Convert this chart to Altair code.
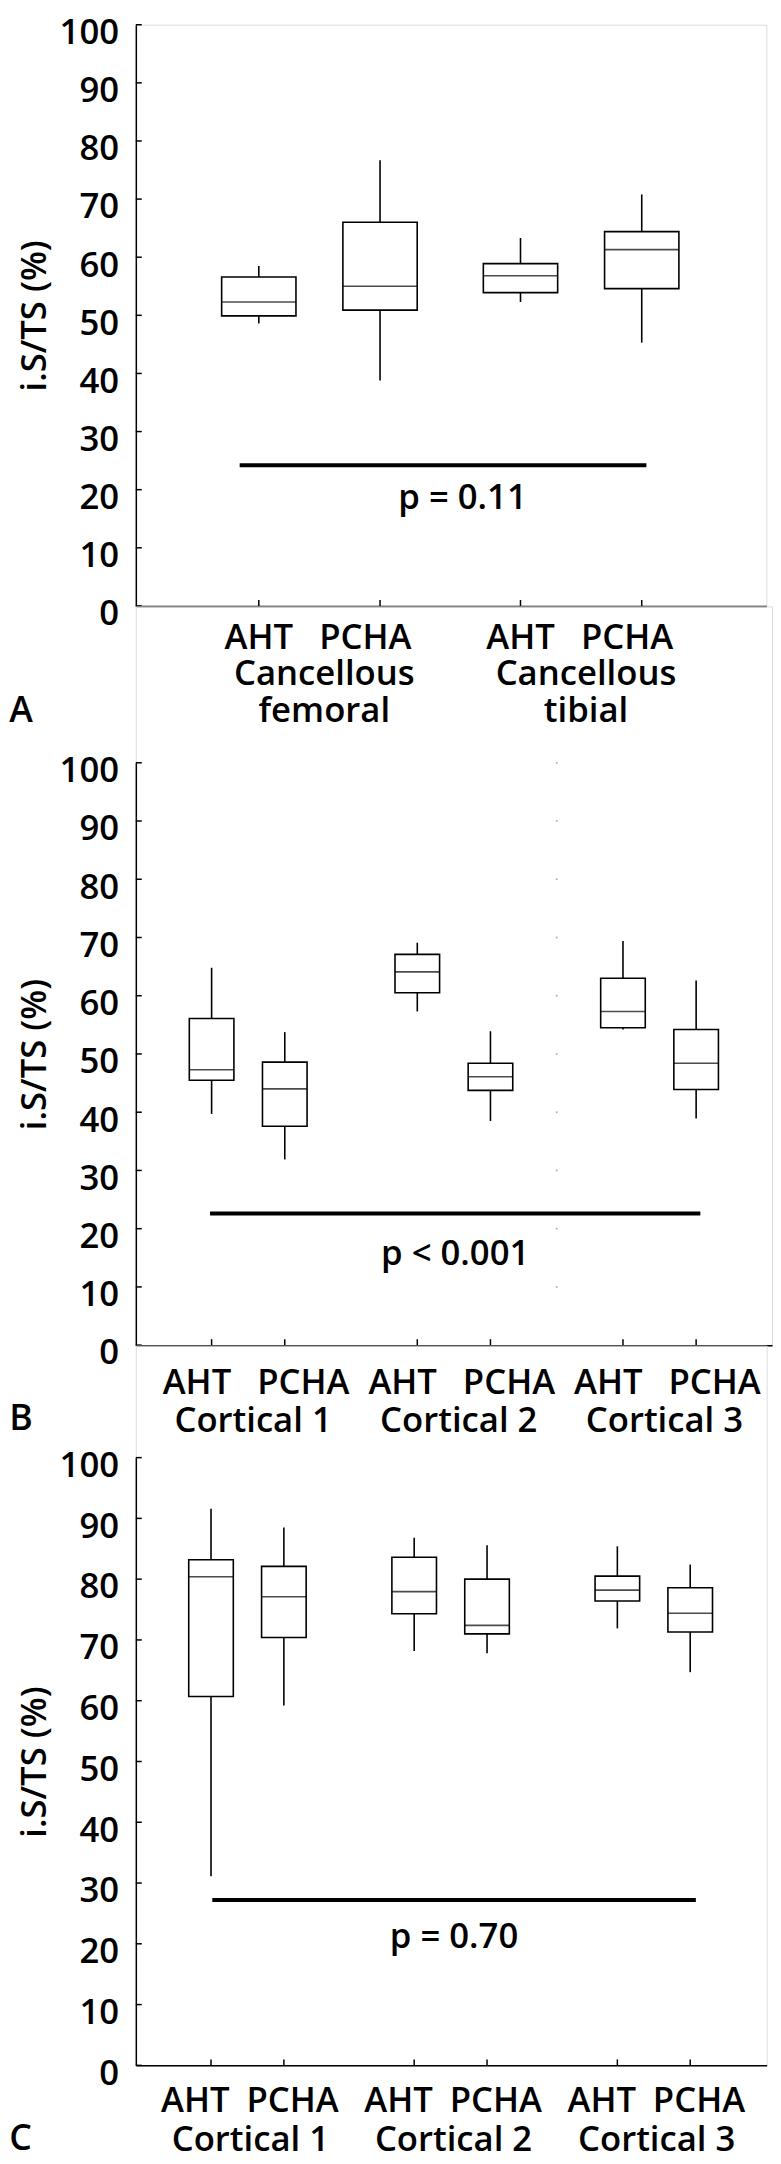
import altair as alt
import pandas as pd

FONT = "Open Sans"
WEIGHT = 600
TREATMENTS = ["AHT", "PCHA"]
Y_TICKS = [0, 10, 20, 30, 40, 50, 60, 70, 80, 90, 100]
Y_TITLE = "i.S/TS (%)"

# ---------------- Panel A ----------------
A_GROUPS = ["Cancellous\nfemoral", "Cancellous\ntibial"]
A_LOW = [48.6, 38.8, 52.3, 45.3]
A_Q1 = [49.9, 50.9, 53.9, 54.6]
A_MED = [52.3, 55.0, 56.8, 61.3]
A_Q3 = [56.6, 66.0, 58.9, 64.4]
A_HIGH = [58.5, 76.7, 63.3, 70.8]
A_P_TEXT = "p = 0.11"
A_P_LEVEL = 24.2
A_P_TEXT_LEVEL = 16.7

# ---------------- Panel B ----------------
B_GROUPS = ["Cortical 1", "Cortical 2", "Cortical 3"]
B_LOW = [39.7, 31.9, 57.3, 38.5, 54.2, 38.9]
B_Q1 = [45.5, 37.6, 60.5, 43.75, 54.5, 43.9]
B_MED = [47.3, 44.0, 64.1, 46.1, 57.3, 48.4]
B_Q3 = [56.1, 48.6, 67.1, 48.4, 63.0, 54.2]
B_HIGH = [64.8, 53.75, 69.1, 53.9, 69.4, 62.6]
B_P_TEXT = "p < 0.001"
B_P_LEVEL = 22.6
B_P_TEXT_LEVEL = 13.8

# ---------------- Panel C ----------------
C_GROUPS = ["Cortical 1", "Cortical 2", "Cortical 3"]
C_LOW = [31.1, 59.2, 68.2, 67.8, 71.9, 64.7]
C_Q1 = [60.7, 70.4, 74.3, 71.0, 76.4, 71.3]
C_MED = [80.4, 77.1, 77.95, 72.4, 78.2, 74.4]
C_Q3 = [83.2, 82.1, 83.6, 80.0, 80.5, 78.6]
C_HIGH = [91.6, 88.5, 86.8, 85.6, 85.4, 82.4]
C_P_TEXT = "p = 0.70"
C_P_LEVEL = 27.2
C_P_TEXT_LEVEL = 19.3

# layout (pixels / styles)
LAY_A = dict(letter="A", width=636.3, height=586.5, top=0, first=121, sep=124.3, step=268.3,
             box=75, treat_dx=[0, -15], group_dx=5, row1=43.5, row2=80, line_h=37.5,
             letter_y=117.5, p_from=-19.6, p_to=4.8, p_dx=20, dots=False)
LAY_B = dict(letter="B", width=642, height=745.5, top=157.8, first=72.6, sep=75, step=210.85,
             box=45, treat_dx=[-15, 19], group_dx=5, row1=49, row2=88, line_h=37.5,
             letter_y=86, p_from=-1.6, p_to=4.3, p_dx=0, dots=True)
LAY_C = dict(letter="C", width=636.6, height=726.3, top=113, first=72, sep=74.7, step=208.3,
             box=45, treat_dx=[-16, 9], group_dx=3, row1=47, row2=86, line_h=37.5,
             letter_y=85.7, p_from=1.3, p_to=5.8, p_dx=0, dots=False)


def build_panel(groups, low, q1, med, q3, high, p_text, p_level, p_text_level, lay):
    sep = lay["sep"]
    ng = len(groups)

    def pos(g, m):
        return (lay["first"] + g * lay["step"] + m * sep) / sep

    rows = []
    for g, grp in enumerate(groups):
        for m, t in enumerate(TREATMENTS):
            i = 2 * g + m
            rows.append({"group": grp, "treat": t, "pos": pos(g, m),
                         "label_pos": pos(g, m) + lay["treat_dx"][m] / sep,
                         "low": low[i], "q1": q1[i], "med": med[i], "q3": q3[i], "high": high[i]})
    boxes = pd.DataFrame(rows)
    gdf = pd.DataFrame({"group": groups,
                        "gpos": [(pos(g, 0) + pos(g, 1)) / 2 + lay["group_dx"] / sep for g in range(ng)]})
    x1 = pos(0, 0) + lay["p_from"] / sep
    x2 = pos(ng - 1, 1) + lay["p_to"] / sep
    pdf = pd.DataFrame({"x1": [x1], "x2": [x2], "level": [p_level],
                        "tpos": [(x1 + x2) / 2 + lay["p_dx"] / sep],
                        "tlevel": [p_text_level], "text": [p_text]})
    tdf = pd.DataFrame({"v": Y_TICKS})

    h = lay["height"]
    top = lay["top"]
    xs = alt.Scale(domain=[0, lay["width"] / sep], nice=False, zero=False)
    ys = alt.Scale(domain=[0, 100], range=[h, top], nice=False, zero=False)
    xax = alt.Axis(labels=False, ticks=False, title=None, grid=False,
                   domainColor="black", domainWidth=1.5)
    yax = alt.Axis(values=Y_TICKS, grid=False, ticks=False, labelPadding=17.4,
                   labelFont=FONT, labelFontSize=35, labelFontWeight=WEIGHT, labelColor="black",
                   labelBaseline="alphabetic", labelOffset=19, labelFlush=False,
                   labelOverlap=False, domainColor="black", domainWidth=1.5,
                   title=Y_TITLE, titleFont=FONT, titleFontSize=35, titleFontWeight=WEIGHT,
                   titleColor="black", titleAngle=270, titleX=-91.2, titleY=(h + top) / 2,
                   titleAlign="center", titleBaseline="alphabetic")

    X = lambda f: alt.X(f, scale=xs, axis=xax)
    Y = lambda f: alt.Y(f, scale=ys, axis=yax)
    txt = dict(font=FONT, fontSize=35, fontWeight=WEIGHT, baseline="alphabetic",
               align="center", color="black")

    layers = []
    if lay["dots"]:
        ddf = pd.DataFrame({"v": Y_TICKS[1:]})
        ddf["x"] = (pos(1, 1) + pos(2, 0)) / 2
        layers.append(alt.Chart(ddf).mark_square(size=3, color="#9a9a9a", opacity=0.8).encode(
            x=X("x:Q"), y=Y("v:Q")))
    layers += [
        alt.Chart(boxes).mark_rule(color="black", strokeWidth=1.6).encode(
            x=X("pos:Q"), y=Y("low:Q"), y2="high:Q"),
        alt.Chart(boxes).mark_bar(size=lay["box"], fill="white", stroke="black", strokeWidth=1.6).encode(
            x=X("pos:Q"), y=Y("q1:Q"), y2="q3:Q"),
        alt.Chart(boxes).mark_tick(orient="horizontal", size=lay["box"], thickness=1.6, color="black").encode(
            x=X("pos:Q"), y=Y("med:Q")),
        alt.Chart(tdf).mark_rule(color="black", strokeWidth=1.5).encode(
            y=Y("v:Q"), x=alt.value(0), x2=alt.value(6)),
        alt.Chart(boxes).mark_rule(color="black", strokeWidth=1.5).encode(
            x=X("pos:Q"), y=alt.value(h), y2=alt.value(h - 6)),
        alt.Chart(boxes).mark_text(**txt).encode(
            x=X("label_pos:Q"), y=alt.value(h + lay["row1"]), text="treat:N"),
        alt.Chart(gdf).mark_text(lineBreak="\n", lineHeight=lay["line_h"], **txt).encode(
            x=X("gpos:Q"), y=alt.value(h + lay["row2"]), text="group:N"),
        alt.Chart(pdf).mark_rule(color="black", strokeWidth=4).encode(
            x=X("x1:Q"), x2="x2:Q", y=Y("level:Q")),
        alt.Chart(pdf).mark_text(**txt).encode(
            x=X("tpos:Q"), y=Y("tlevel:Q"), text="text:N"),
        alt.Chart(pd.DataFrame({"letter": [lay["letter"]]})).mark_text(
            font=FONT, fontSize=36, fontWeight=WEIGHT, baseline="alphabetic", align="left",
            color="black").encode(
            x=alt.value(-127.7), y=alt.value(h + lay["letter_y"]), text="letter:N"),
    ]
    return alt.layer(*layers).properties(width=lay["width"], height=h)


pA = build_panel(A_GROUPS, A_LOW, A_Q1, A_MED, A_Q3, A_HIGH, A_P_TEXT, A_P_LEVEL, A_P_TEXT_LEVEL, LAY_A)
pB = build_panel(B_GROUPS, B_LOW, B_Q1, B_MED, B_Q3, B_HIGH, B_P_TEXT, B_P_LEVEL, B_P_TEXT_LEVEL, LAY_B)
pC = build_panel(C_GROUPS, C_LOW, C_Q1, C_MED, C_Q3, C_HIGH, C_P_TEXT, C_P_LEVEL, C_P_TEXT_LEVEL, LAY_C)

chart = alt.vconcat(pA, pB, pC, spacing=0, bounds="flush").properties(
    padding={"top": -3, "left": 0, "right": 0, "bottom": 0}
).configure_view(stroke=None).configure(background="white")

chart.save("out.html", embed_options={"renderer": "svg", "actions": False})
